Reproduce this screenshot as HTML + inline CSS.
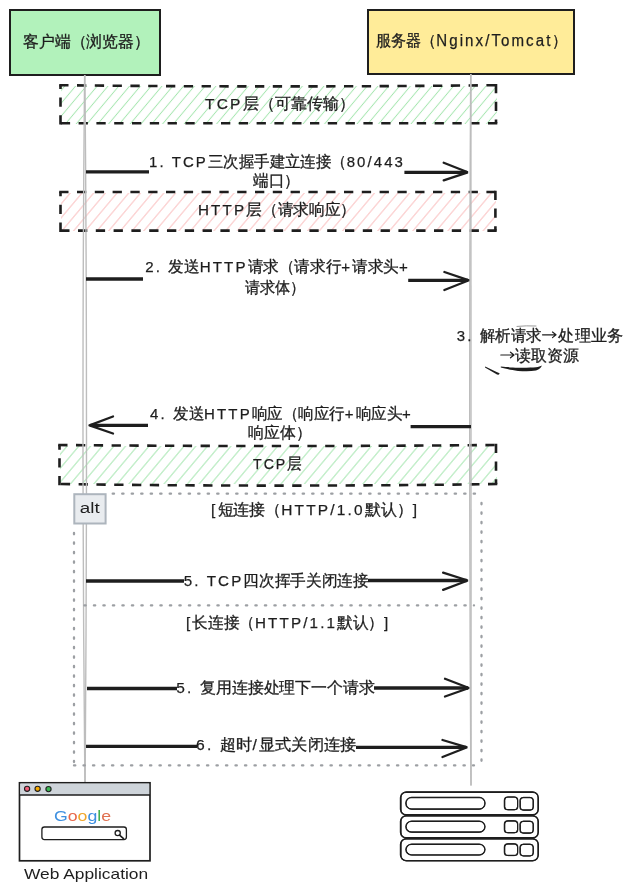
<!DOCTYPE html>
<html><head><meta charset="utf-8">
<style>
html,body{margin:0;padding:0;background:#fff;width:631px;height:894px;overflow:hidden}
svg{display:block;will-change:transform}
text{font-family:"Liberation Sans",sans-serif;fill:#1e1e1e;stroke:#1e1e1e;stroke-width:0.3px;white-space:pre}
.a{stroke-width:0.25px;letter-spacing:2.2px}
</style></head><body>
<svg width="631" height="894" viewBox="0 0 631 894">
<defs>
<pattern id="hg1" patternUnits="userSpaceOnUse" width="10.8" height="40" patternTransform="translate(2.0,0) skewX(-40)"><line x1="5.4" y1="-1" x2="5.4" y2="41" stroke="#a6e6b0" stroke-width="1.25"/></pattern>
<pattern id="hr2" patternUnits="userSpaceOnUse" width="11.7" height="40" patternTransform="translate(4.1,0) skewX(-40)"><line x1="5.85" y1="-1" x2="5.85" y2="41" stroke="#fac0c0" stroke-width="1.25"/></pattern>
<pattern id="hg3" patternUnits="userSpaceOnUse" width="11.7" height="40" patternTransform="translate(2.7,0) skewX(-40)"><line x1="5.85" y1="-1" x2="5.85" y2="41" stroke="#a6e6b0" stroke-width="1.25"/></pattern>
</defs>
<rect x="10" y="10" width="150" height="65" fill="#b2f2bb" stroke="#1e1e1e" stroke-width="2"/>
<rect x="368" y="10" width="206" height="64" fill="#ffec99" stroke="#1e1e1e" stroke-width="2"/>
<rect x="61" y="86" width="436" height="38" fill="url(#hg1)"/>
<rect x="61" y="193" width="435" height="38" fill="url(#hr2)"/>
<rect x="60" y="446" width="437" height="38" fill="url(#hg3)"/>
<path d="M59.20 85.20 Q277.60 87.60 496.00 85.20" fill="none" stroke="#1e1e1e" stroke-width="2.6" stroke-dasharray="9.3 8.5"/>
<path d="M496.00 83.90 Q496.00 103.55 496.00 123.20" fill="none" stroke="#1e1e1e" stroke-width="2.6" stroke-dasharray="9.3 8.5"/>
<path d="M497.30 123.20 Q278.90 123.20 60.50 123.20" fill="none" stroke="#1e1e1e" stroke-width="2.6" stroke-dasharray="9.3 8.5"/>
<path d="M60.50 124.50 Q60.50 104.85 60.50 85.20" fill="none" stroke="#1e1e1e" stroke-width="2.6" stroke-dasharray="9.3 8.5"/>
<path d="M59.20 192.00 Q277.30 192.00 495.40 192.00" fill="none" stroke="#1e1e1e" stroke-width="2.6" stroke-dasharray="9.3 8.5"/>
<path d="M495.40 190.70 Q495.40 210.65 495.40 230.60" fill="none" stroke="#1e1e1e" stroke-width="2.6" stroke-dasharray="9.3 8.5"/>
<path d="M496.70 230.60 Q278.60 230.60 60.50 230.60" fill="none" stroke="#1e1e1e" stroke-width="2.6" stroke-dasharray="9.3 8.5"/>
<path d="M60.50 231.90 Q60.50 211.95 60.50 192.00" fill="none" stroke="#1e1e1e" stroke-width="2.6" stroke-dasharray="9.3 8.5"/>
<path d="M58.20 445.00 Q277.10 447.00 496.00 445.00" fill="none" stroke="#1e1e1e" stroke-width="2.6" stroke-dasharray="9.3 8.5"/>
<path d="M496.00 443.70 Q496.00 463.85 496.00 484.00" fill="none" stroke="#1e1e1e" stroke-width="2.6" stroke-dasharray="9.3 8.5"/>
<path d="M497.30 484.00 Q278.40 487.20 59.50 484.00" fill="none" stroke="#1e1e1e" stroke-width="2.6" stroke-dasharray="9.3 8.5"/>
<path d="M59.50 485.30 Q59.50 465.15 59.50 445.00" fill="none" stroke="#1e1e1e" stroke-width="2.6" stroke-dasharray="9.3 8.5"/>
<g fill="none" stroke="#bdbdbd" stroke-width="1.4">
<path d="M84.6 75 Q81.2 420 84.9 782"/>
<path d="M84.9 75 Q88.0 420 85.1 782"/>
<path d="M470.7 74 Q468.6 420 470.9 785.5"/>
<path d="M470.9 74 Q472.3 420 471.1 785.5"/>
</g>
<g fill="none" stroke="#9c9fa3" stroke-width="2.3" stroke-dasharray="1.3 8.2" stroke-linecap="round">
<line x1="112.7" y1="493.7" x2="482" y2="493.7"/>
<line x1="481.5" y1="503" x2="481.5" y2="762"/>
<line x1="74" y1="533" x2="74" y2="762"/>
<line x1="74" y1="765.4" x2="474" y2="765.4"/>
<line x1="84.4" y1="605.4" x2="474" y2="605.4"/>
</g>
<rect x="74.3" y="494.2" width="31.3" height="29.3" fill="#e9ecef" stroke="#adb5bd" stroke-width="2"/>
<path d="M86 171.8 L149 171.8" stroke="#1e1e1e" stroke-width="3.3" fill="none" stroke-linecap="butt"/>
<path d="M404.4 172.3 L466.8 172.3" stroke="#1e1e1e" stroke-width="3.3" fill="none" stroke-linecap="butt"/>
<path d="M443.7 162.7 L467.8 172.3 L443.7 180.4" stroke="#1e1e1e" stroke-width="2.3" fill="none" stroke-linecap="round" stroke-linejoin="miter" stroke-miterlimit="2"/>
<path d="M86 279 L143 279" stroke="#1e1e1e" stroke-width="3.3" fill="none" stroke-linecap="butt"/>
<path d="M408.2 280.3 L468.0 280.3" stroke="#1e1e1e" stroke-width="3.3" fill="none" stroke-linecap="butt"/>
<path d="M444.4 272 L469.0 280.3 L444.4 290" stroke="#1e1e1e" stroke-width="2.3" fill="none" stroke-linecap="round" stroke-linejoin="miter" stroke-miterlimit="2"/>
<path d="M148 425.4 L90.5 425.4" stroke="#1e1e1e" stroke-width="3.4" fill="none" stroke-linecap="butt"/>
<path d="M113 416.5 L89.5 425.3 L113 433.5" stroke="#1e1e1e" stroke-width="2.3" fill="none" stroke-linecap="round" stroke-linejoin="round"/>
<path d="M410.6 426.7 L471 426.7" stroke="#1e1e1e" stroke-width="3.3" fill="none" stroke-linecap="butt"/>
<path d="M86 581 L184 581" stroke="#1e1e1e" stroke-width="3.3" fill="none" stroke-linecap="butt"/>
<path d="M368 580.5 L466.8 580.5" stroke="#1e1e1e" stroke-width="3.3" fill="none" stroke-linecap="butt"/>
<path d="M443.1 572.7 L467.8 580.5 L443.1 589.8" stroke="#1e1e1e" stroke-width="2.3" fill="none" stroke-linecap="round" stroke-linejoin="miter" stroke-miterlimit="2"/>
<path d="M87 688.5 L177 688.5" stroke="#1e1e1e" stroke-width="3.3" fill="none" stroke-linecap="butt"/>
<path d="M374 688 L468.0 688" stroke="#1e1e1e" stroke-width="3.3" fill="none" stroke-linecap="butt"/>
<path d="M445 678.8 L469.0 688 L445 696.5" stroke="#1e1e1e" stroke-width="2.3" fill="none" stroke-linecap="round" stroke-linejoin="miter" stroke-miterlimit="2"/>
<path d="M86 746.4 L197 746.4" stroke="#1e1e1e" stroke-width="3.3" fill="none" stroke-linecap="butt"/>
<path d="M356 747.3 L466.2 747.3" stroke="#1e1e1e" stroke-width="3.3" fill="none" stroke-linecap="butt"/>
<path d="M442.5 740 L467.2 747.3 L442.5 757" stroke="#1e1e1e" stroke-width="2.3" fill="none" stroke-linecap="round" stroke-linejoin="miter" stroke-miterlimit="2"/>
<g stroke="#1e1e1e" stroke-width="1.2" fill="none" stroke-linecap="round" stroke-linejoin="round">
<path d="M542.5 334.8 L556 334.8 M552.5 332 L556 334.8 L552.5 337.6"/>
<path d="M500.8 355 L514 355 M510.5 352.2 L514 355 L510.5 357.8"/>
</g>
<path d="M485.2 366.4 C490 368.5 495 371.5 499.6 373.2 C499.3 374.6 498 375 497 374.6 C493 372.5 489 370 485 367.6 Z" fill="#1e1e1e"/>
<path d="M500.8 366.6 C508 367.2 512 367.6 518 367.7 C526 367.8 532 367.6 536 367.3 C538.5 367 540.5 366.2 541.8 365.6 C541.4 367.5 539.5 369.6 536 370.6 C530 371.6 524 371.4 518 370.9 C510 370.1 505 368.6 500.8 367.6 Z" fill="#1e1e1e"/>
<path d="M517 326.4 Q526 325.5 536 326" stroke="#999" stroke-width="1" fill="none" stroke-linecap="round"/>
<rect x="19.5" y="782.8" width="130.5" height="78" fill="#fff" stroke="#1e1e1e" stroke-width="1.7"/>
<rect x="20.3" y="783.6" width="128.9" height="11.4" fill="#ced4da"/>
<line x1="19.5" y1="795" x2="150" y2="795" stroke="#1e1e1e" stroke-width="1.3"/>
<circle cx="27.1" cy="788.8" r="2.6" fill="#f0607a" stroke="#1e1e1e" stroke-width="1.1"/>
<circle cx="37.6" cy="788.8" r="2.6" fill="#f5a800" stroke="#1e1e1e" stroke-width="1.1"/>
<circle cx="48.5" cy="789.1" r="2.6" fill="#3cb854" stroke="#1e1e1e" stroke-width="1.1"/>
<rect x="41.9" y="827" width="84.5" height="12.6" rx="2.5" fill="#fff" stroke="#1e1e1e" stroke-width="1.3"/>
<circle cx="117.7" cy="833.1" r="2.6" fill="none" stroke="#1e1e1e" stroke-width="1.3"/>
<line x1="119.6" y1="835.1" x2="123.5" y2="838.6" stroke="#1e1e1e" stroke-width="1.6" stroke-linecap="round"/>
<rect x="400.50" y="792.20" width="137.80" height="22.60" rx="5.5" fill="none" stroke="#1e1e1e" stroke-width="1.4"/>
<rect x="401.10" y="791.70" width="136.90" height="23.50" rx="5.5" fill="none" stroke="#1e1e1e" stroke-width="1.0499999999999998"/>
<rect x="405.80" y="797.60" width="79.20" height="11.40" rx="5.5" fill="none" stroke="#1e1e1e" stroke-width="1.3"/>
<rect x="406.30" y="797.20" width="78.45" height="12.12" rx="5.5" fill="none" stroke="#1e1e1e" stroke-width="0.9750000000000001"/>
<rect x="504.40" y="797.20" width="13.30" height="12.40" rx="3.2" fill="none" stroke="#1e1e1e" stroke-width="1.3"/>
<rect x="504.80" y="796.90" width="12.70" height="12.94" rx="3.2" fill="none" stroke="#1e1e1e" stroke-width="0.9750000000000001"/>
<rect x="520.00" y="797.60" width="13.30" height="12.40" rx="3.2" fill="none" stroke="#1e1e1e" stroke-width="1.3"/>
<rect x="520.40" y="797.30" width="12.70" height="12.94" rx="3.2" fill="none" stroke="#1e1e1e" stroke-width="0.9750000000000001"/>
<rect x="400.50" y="816.00" width="137.80" height="21.80" rx="5.5" fill="none" stroke="#1e1e1e" stroke-width="1.4"/>
<rect x="401.10" y="815.50" width="136.90" height="22.70" rx="5.5" fill="none" stroke="#1e1e1e" stroke-width="1.0499999999999998"/>
<rect x="405.80" y="821.40" width="79.20" height="10.60" rx="5.5" fill="none" stroke="#1e1e1e" stroke-width="1.3"/>
<rect x="406.30" y="821.00" width="78.45" height="11.32" rx="5.5" fill="none" stroke="#1e1e1e" stroke-width="0.9750000000000001"/>
<rect x="504.40" y="821.00" width="13.30" height="11.60" rx="3.2" fill="none" stroke="#1e1e1e" stroke-width="1.3"/>
<rect x="504.80" y="820.70" width="12.70" height="12.14" rx="3.2" fill="none" stroke="#1e1e1e" stroke-width="0.9750000000000001"/>
<rect x="520.00" y="821.40" width="13.30" height="11.60" rx="3.2" fill="none" stroke="#1e1e1e" stroke-width="1.3"/>
<rect x="520.40" y="821.10" width="12.70" height="12.14" rx="3.2" fill="none" stroke="#1e1e1e" stroke-width="0.9750000000000001"/>
<rect x="400.50" y="839.00" width="137.80" height="21.60" rx="5.5" fill="none" stroke="#1e1e1e" stroke-width="1.4"/>
<rect x="401.10" y="838.50" width="136.90" height="22.50" rx="5.5" fill="none" stroke="#1e1e1e" stroke-width="1.0499999999999998"/>
<rect x="405.80" y="844.40" width="79.20" height="10.40" rx="5.5" fill="none" stroke="#1e1e1e" stroke-width="1.3"/>
<rect x="406.30" y="844.00" width="78.45" height="11.12" rx="5.5" fill="none" stroke="#1e1e1e" stroke-width="0.9750000000000001"/>
<rect x="504.40" y="844.00" width="13.30" height="11.40" rx="3.2" fill="none" stroke="#1e1e1e" stroke-width="1.3"/>
<rect x="504.80" y="843.70" width="12.70" height="11.94" rx="3.2" fill="none" stroke="#1e1e1e" stroke-width="0.9750000000000001"/>
<rect x="520.00" y="844.40" width="13.30" height="11.40" rx="3.2" fill="none" stroke="#1e1e1e" stroke-width="1.3"/>
<rect x="520.40" y="844.10" width="12.70" height="11.94" rx="3.2" fill="none" stroke="#1e1e1e" stroke-width="0.9750000000000001"/>
<text x="23.00" y="46.50" font-size="16.00" textLength="126.85" lengthAdjust="spacingAndGlyphs">客户端（浏览器）</text>
<text x="375.94" y="46.00" font-size="16.00" textLength="191.59" lengthAdjust="spacingAndGlyphs">服务器（<tspan class="a">Nginx/Tomcat</tspan>）</text>
<text x="205.00" y="109.00" font-size="15.50" textLength="149.63" lengthAdjust="spacingAndGlyphs"><tspan class="a">TCP</tspan>层（可靠传输）</text>
<text x="148.98" y="166.50" font-size="15.50" textLength="256.05" lengthAdjust="spacingAndGlyphs"><tspan class="a">1. TCP</tspan>三次握手建立连接（<tspan class="a">80/443</tspan></text>
<text x="252.93" y="185.60" font-size="15.50" textLength="47.08" lengthAdjust="spacingAndGlyphs">端口）</text>
<text x="197.93" y="215.20" font-size="15.50" textLength="157.96" lengthAdjust="spacingAndGlyphs"><tspan class="a">HTTP</tspan>层（请求响应）</text>
<text x="145.19" y="272.00" font-size="15.50" textLength="264.84" lengthAdjust="spacingAndGlyphs"><tspan class="a">2. </tspan>发送<tspan class="a">HTTP</tspan>请求（请求行<tspan class="a">+</tspan>请求头<tspan class="a">+</tspan></text>
<text x="245.00" y="293.00" font-size="15.50" textLength="60.49" lengthAdjust="spacingAndGlyphs">请求体）</text>
<text x="456.79" y="341.00" font-size="15.50" textLength="84.71" lengthAdjust="spacingAndGlyphs"><tspan class="a">3. </tspan>解析请求</text>
<text x="558.38" y="341.00" font-size="15.50" textLength="64.64" lengthAdjust="spacingAndGlyphs">处理业务</text>
<text x="515.40" y="360.50" font-size="15.50" textLength="63.69" lengthAdjust="spacingAndGlyphs">读取资源</text>
<text x="150.00" y="419.20" font-size="15.50" textLength="263.03" lengthAdjust="spacingAndGlyphs"><tspan class="a">4. </tspan>发送<tspan class="a">HTTP</tspan>响应（响应行<tspan class="a">+</tspan>响应头<tspan class="a">+</tspan></text>
<text x="248.00" y="438.00" font-size="15.50" textLength="63.39" lengthAdjust="spacingAndGlyphs">响应体）</text>
<text x="253.00" y="469.00" font-size="15.50" textLength="48.93" lengthAdjust="spacingAndGlyphs"><tspan class="a">TCP</tspan>层</text>
<text x="79.86" y="512.60" font-size="15.50" textLength="19.92" lengthAdjust="spacingAndGlyphs" style="stroke-width:0px">alt</text>
<text x="211.07" y="515.00" font-size="15.50" textLength="208.07" lengthAdjust="spacingAndGlyphs"><tspan class="a">[</tspan>短连接（<tspan class="a">HTTP/1.0</tspan>默认）<tspan class="a">]</tspan></text>
<text x="183.74" y="585.80" font-size="15.50" textLength="184.67" lengthAdjust="spacingAndGlyphs"><tspan class="a">5. TCP</tspan>四次挥手关闭连接</text>
<text x="185.98" y="628.20" font-size="15.50" textLength="204.48" lengthAdjust="spacingAndGlyphs"><tspan class="a">[</tspan>长连接（<tspan class="a">HTTP/1.1</tspan>默认）<tspan class="a">]</tspan></text>
<text x="176.18" y="692.50" font-size="15.50" textLength="198.83" lengthAdjust="spacingAndGlyphs"><tspan class="a">5. </tspan>复用连接处理下一个请求</text>
<text x="195.99" y="749.50" font-size="15.50" textLength="160.12" lengthAdjust="spacingAndGlyphs"><tspan class="a">6. </tspan>超时<tspan class="a">/</tspan>显式关闭连接</text>
<text x="24.00" y="879.20" font-size="15.00" textLength="124.14" lengthAdjust="spacingAndGlyphs" style="stroke-width:0px">Web Application</text>
<text x="53.95" y="821.00" font-size="14.00" textLength="57.21" lengthAdjust="spacingAndGlyphs" style="stroke-width:0px"><tspan fill="#3d8fe0" stroke="#3d8fe0">G</tspan><tspan fill="#e8684a" stroke="#e8684a">o</tspan><tspan fill="#f0a62a" stroke="#f0a62a">o</tspan><tspan fill="#3d8fe0" stroke="#3d8fe0">g</tspan><tspan fill="#40b050" stroke="#40b050">l</tspan><tspan fill="#e07050" stroke="#e07050">e</tspan></text>
</svg>
</body></html>
